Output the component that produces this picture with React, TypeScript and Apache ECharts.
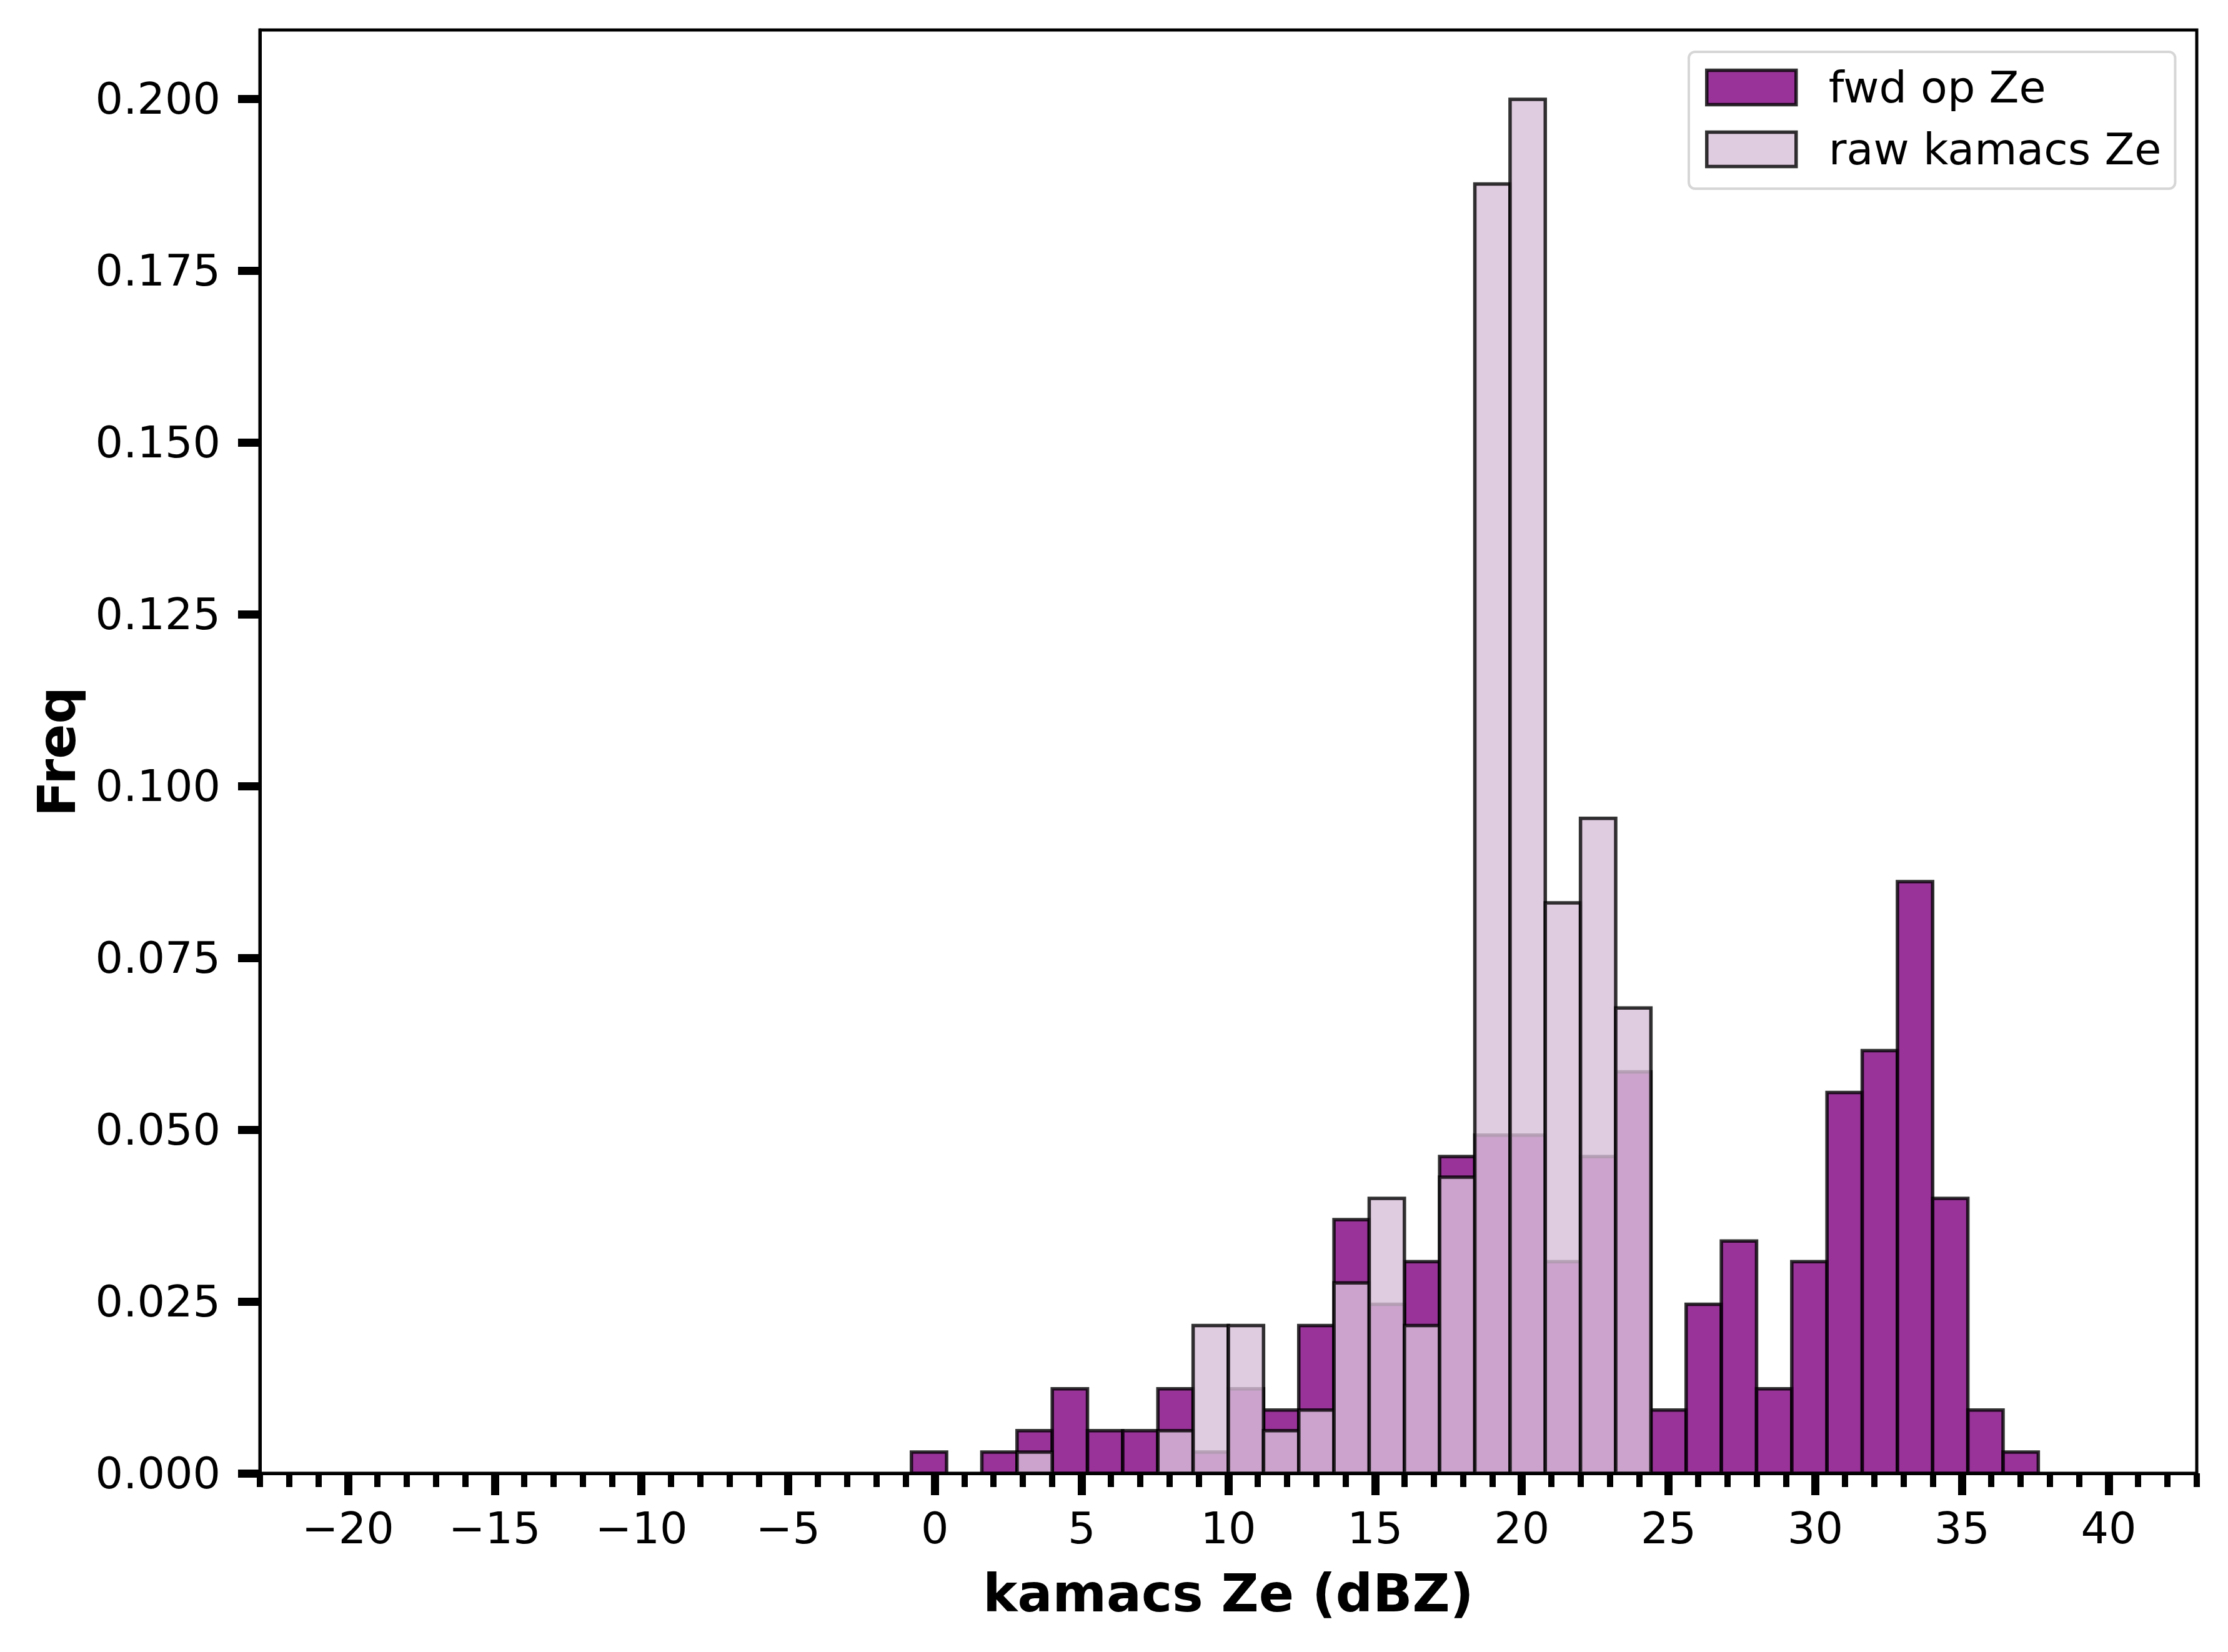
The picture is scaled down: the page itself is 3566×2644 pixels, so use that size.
import React, { useEffect, useRef } from 'react';
import * as echarts from 'echarts';

// histogram bins: 50 bins of 1.2 dBZ from -20 to 40
const BIN_MIN = -20;
const BIN_WIDTH = 1.2;
const BIN_COUNT = 50;

const fwdOpZe = [
  0, 0, 0, 0, 0, 0, 0, 0, 0, 0,
  0, 0, 0, 0, 0, 0, 0.0031, 0, 0.0031, 0.0062,
  0.0123, 0.0062, 0.0062, 0.0123, 0.0031, 0.0123, 0.0092, 0.0215, 0.0369, 0.0246,
  0.0308, 0.0461, 0.0492, 0.0492, 0.0308, 0.0461, 0.0584, 0.0092, 0.0246, 0.0338,
  0.0123, 0.0308, 0.0554, 0.0615, 0.0861, 0.04, 0.0092, 0.0031, 0, 0,
];

const rawKamacsZe = [
  0, 0, 0, 0, 0, 0, 0, 0, 0, 0,
  0, 0, 0, 0, 0, 0, 0, 0, 0, 0.0031,
  0, 0, 0, 0.0062, 0.0215, 0.0215, 0.0062, 0.0092, 0.0277, 0.04,
  0.0215, 0.0431, 0.1876, 0.1999, 0.083, 0.0953, 0.0677, 0, 0, 0,
  0, 0, 0, 0, 0, 0, 0, 0, 0, 0,
];

const xMajorTicks = [-20, -15, -10, -5, 0, 5, 10, 15, 20, 25, 30, 35, 40];
const yTicks = [0, 0.025, 0.05, 0.075, 0.1, 0.125, 0.15, 0.175, 0.2];

const X_MIN = -23;
const X_MAX = 43;
const Y_MAX = 0.21;

const FONT = 'DejaVu Sans';
const EDGE = 'rgba(0,0,0,0.8)';
const FWD_FILL = 'rgba(128,0,128,0.8)';
const RAW_FILL = 'rgba(216,191,216,0.8)';
const EDGE_W = 5.5;

const toBins = (vals: number[]) =>
  vals.map((v, i) => {
    const x0 = +(BIN_MIN + i * BIN_WIDTH).toFixed(1);
    const x1 = +(BIN_MIN + (i + 1) * BIN_WIDTH).toFixed(1);
    return [x0, x1, v];
  });

const minorTicks: number[] = [];
for (let v = X_MIN; v <= X_MAX; v++) minorTicks.push(v);

const fmtX = (v: number) => (v < 0 ? '\u2212' + Math.abs(v) : String(v));

const histSeries = (name: string, vals: number[], fill: string) => ({
  name,
  type: 'custom',
  xAxisIndex: 0,
  yAxisIndex: 0,
  itemStyle: { color: fill },
  encode: { x: [0, 1], y: 2 },
  data: toBins(vals.slice(0, BIN_COUNT)),
  renderItem: (_params: any, api: any) => {
    const v = api.value(2);
    if (!v) return null;
    const p0 = api.coord([api.value(0), v]);
    const p1 = api.coord([api.value(1), 0]);
    return {
      type: 'rect',
      shape: { x: p0[0], y: p0[1], width: p1[0] - p0[0], height: p1[1] - p0[1] },
      style: { fill, stroke: EDGE, lineWidth: EDGE_W },
    };
  },
});

const App: React.FC = () => {
  const chartRef = useRef<HTMLDivElement | null>(null);

  useEffect(() => {
    const chart = echarts.init(chartRef.current!, null, { renderer: 'svg' });

    const labelStyle = { fontFamily: FONT, fontSize: 70, color: '#000' };

    chart.setOption({
      animation: false,
      backgroundColor: '#fff',
      grid: {
        left: 416,
        top: 48,
        width: 3100,
        height: 2310,
        show: true,
        borderColor: '#000',
        borderWidth: 5,
        backgroundColor: 'transparent',
        containLabel: false,
      },
      legend: {
        orient: 'vertical',
        left: 2703,
        top: 83,
        itemWidth: 143,
        itemHeight: 55,
        itemGap: 29,
        padding: [22, 22, 28, 26],
        backgroundColor: 'rgba(255,255,255,0.8)',
        borderColor: '#d6d6d6',
        borderWidth: 4,
        borderRadius: 10,
        textStyle: { ...labelStyle, padding: [0, 0, 0, 47] },
        data: [
          { name: 'fwd op Ze', icon: 'rect', itemStyle: { color: FWD_FILL, borderColor: EDGE, borderWidth: EDGE_W } },
          { name: 'raw kamacs Ze', icon: 'rect', itemStyle: { color: RAW_FILL, borderColor: EDGE, borderWidth: EDGE_W } },
        ],
      },
      xAxis: [
        {
          type: 'value',
          min: X_MIN,
          max: X_MAX,
          z: 5,
          splitLine: { show: false },
          axisLine: { show: true, onZero: false, lineStyle: { color: '#000', width: 5 } },
          axisTick: { show: true, customValues: xMajorTicks, length: 35, lineStyle: { color: '#000', width: 13 } },
          axisLabel: { ...labelStyle, customValues: xMajorTicks, margin: 53, formatter: fmtX },
        },
        {
          type: 'value',
          min: X_MIN,
          max: X_MAX,
          position: 'bottom',
          z: 5,
          splitLine: { show: false },
          axisLine: { show: false, onZero: false },
          axisTick: { show: true, customValues: minorTicks, length: 22, lineStyle: { color: '#000', width: 10 } },
          axisLabel: { show: false },
        },
      ],
      yAxis: {
        type: 'value',
        min: 0,
        max: Y_MAX,
        z: 5,
        splitLine: { show: false },
        axisLine: { show: true, onZero: false, lineStyle: { color: '#000', width: 5 } },
        axisTick: { show: true, customValues: yTicks, length: 35, lineStyle: { color: '#000', width: 13 } },
        axisLabel: { ...labelStyle, customValues: yTicks, margin: 63, formatter: (v: number) => v.toFixed(3) },
      },
      graphic: [
        {
          type: 'text',
          x: 1966,
          y: 2550,
          style: {
            text: 'kamacs Ze (dBZ)',
            fontFamily: FONT,
            fontSize: 83,
            fontWeight: 'bold',
            fill: '#000',
            align: 'center',
            verticalAlign: 'middle',
          },
        },
        {
          type: 'text',
          x: 91,
          y: 1203,
          rotation: Math.PI / 2,
          style: {
            text: 'Freq',
            fontFamily: FONT,
            fontSize: 83,
            fontWeight: 'bold',
            fill: '#000',
            align: 'center',
            verticalAlign: 'middle',
          },
        },
      ],
      series: [histSeries('fwd op Ze', fwdOpZe, FWD_FILL), histSeries('raw kamacs Ze', rawKamacsZe, RAW_FILL)],
    });

    return () => {
      chart.dispose();
    };
  }, []);

  return (
    <div
      ref={chartRef}
      style={{ position: 'absolute', left: 0, top: 0, width: '3566px', height: '2644px' }}
    />
  );
};

export default App;
